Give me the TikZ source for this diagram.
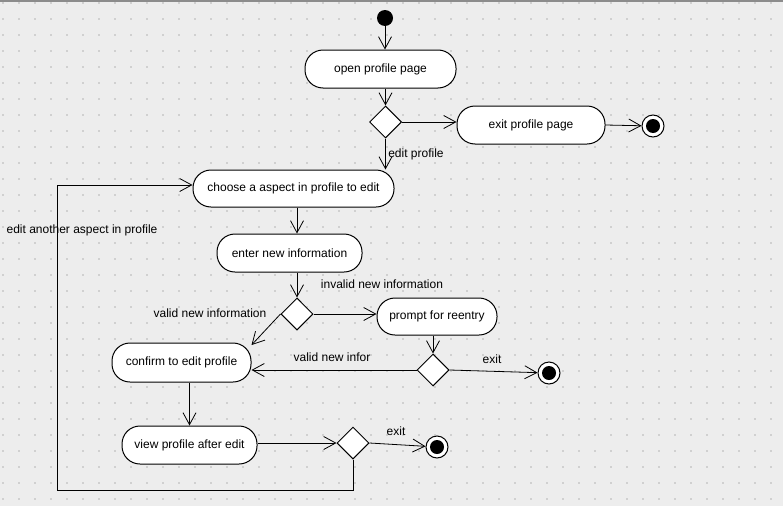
\documentclass[tikz,border=0pt]{standalone}
\usepackage{fontspec}
\setmainfont{Liberation Sans}
\usetikzlibrary{arrows.meta,shapes.geometric}
\definecolor{bgc}{HTML}{EDEDED}
\definecolor{dotc}{HTML}{D0D0D0}
\begin{document}
\begin{tikzpicture}[x=1pt,y=-1pt,
  act/.style={draw,line width=1pt,fill=white,rounded corners=18pt,inner sep=0pt,font=\fontsize{12}{14}\selectfont},
  dec/.style={draw,line width=1pt,fill=white,diamond,minimum width=32pt,minimum height=32pt,inner sep=0pt},
  fin/.style={circle,draw,line width=1pt,fill=white,minimum size=22pt,inner sep=0pt,
    path picture={\fill[black] (path picture bounding box.center) circle (7pt);}},
  init/.style={circle,fill=black,minimum size=16pt,inner sep=0pt},
  flow/.style={line width=0.8pt,-{Straight Barb[length=12pt,width=13pt]}},
  lbl/.style={font=\fontsize{12}{14}\selectfont,inner sep=0pt}
]
\useasboundingbox (0,0) rectangle (783,506);
\fill[bgc] (0,0) rectangle (783,506);
\foreach \i in {0,...,48}
  \foreach \j in {0,...,31}
    \fill[dotc] (2.4+16*\i,2.4+16*\j) rectangle ++(1.3,1.3);
\draw[black!45,line width=1.5pt] (0,0.75) -- (783,0.75);

% nodes
\node[init] (start) at (385,18) {};
\node[act,minimum width=151pt,minimum height=38pt] (open) at (380.5,69) {open profile page};
\node[dec] (d1) at (385.5,122) {};
\node[act,minimum width=148pt,minimum height=38pt] (exitp) at (531,125) {exit profile page};
\node[fin] (f1) at (653,126) {};
\node[act,minimum width=201pt,minimum height=37pt] (choose) at (293.5,188.5) {choose a aspect in profile to edit};
\node[act,minimum width=145pt,minimum height=38pt] (enter) at (289.5,253) {enter new information};
\node[dec] (d2) at (297,314) {};
\node[act,minimum width=120pt,minimum height=37pt] (prompt) at (437,316.5) {prompt for reentry};
\node[dec] (d3) at (433,370) {};
\node[fin] (f2) at (549,373) {};
\node[act,minimum width=139pt,minimum height=39pt] (confirm) at (181.5,362.5) {confirm to edit profile};
\node[act,minimum width=135pt,minimum height=38pt] (view) at (189.5,445) {view profile after edit};
\node[dec] (d4) at (353,443) {};
\node[fin] (f3) at (437,447) {};
\coordinate (lb) at (57.5,490);
\coordinate (lt) at (57.5,185);

% connectors
\draw[flow] (start) -- (start |- open.north);
\draw[flow] (d1.north |- open.south) -- (d1.north);
\draw[flow] (d1.east) -- (d1.east -| exitp.west);
\draw[flow] (exitp.east) -- (f1);
\draw[flow] (d1.south) -- (d1.south |- choose.north);
\draw[flow] (d4.south) |- (lb) -- (lt) -- (choose.west |- lt);
\draw[flow] (d2.north |- choose.south) -- (d2.north |- enter.north);
\draw[flow] (d2.north |- enter.south) -- (d2.north);
\draw[flow] (d2.east) -- (d2.east -| prompt.west);
\draw[flow] (d2.west) -- (confirm.14);
\draw[flow] (d3.north |- prompt.south) -- (d3.north);
\draw[flow] (d3.west) -- (d3.west -| confirm.east);
\draw[flow] (d3.east) -- (f2);
\draw[flow] (view.north |- confirm.south) -- (view.north);
\draw[flow] (d4.west -| view.east) -- (d4.west);
\draw[flow] (d4.east) -- (f3);

% labels
\node[lbl] (l1) at (416,154) {edit profile};
\node[lbl] (l2) at (82,230) {edit another aspect in profile};
\node[lbl] (l3) at (382,284) {invalid new information};
\node[lbl] (l4) at (210,313) {valid new information};
\node[lbl] (l5) at (332,357) {valid new infor};
\node[lbl] (l6) at (492,359) {exit};
\node[lbl] (l7) at (396,431) {exit};
\end{tikzpicture}
\end{document}
